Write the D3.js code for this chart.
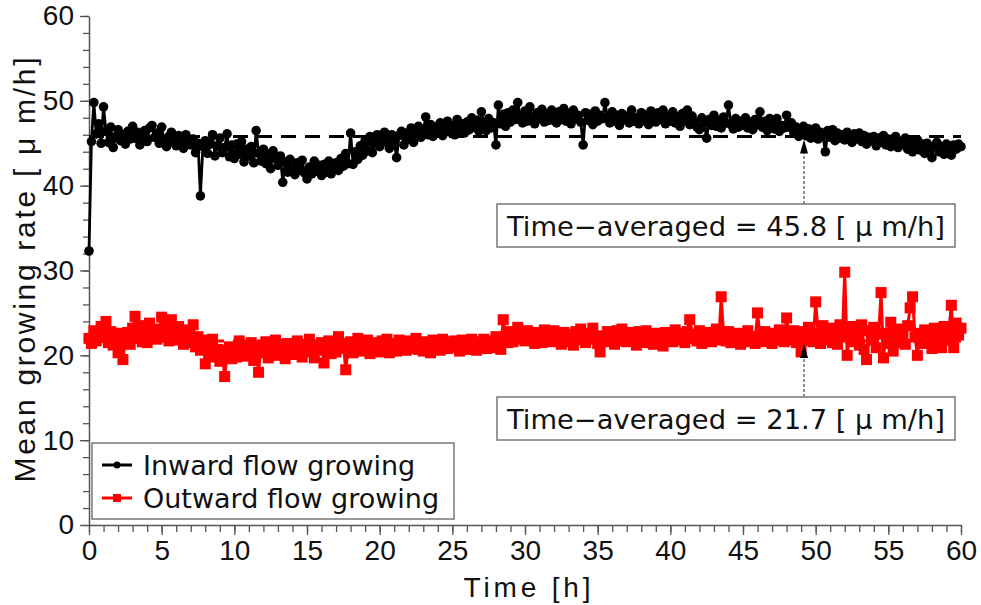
<!doctype html>
<html>
<head>
    <meta charset="utf-8">
    <script src="https://d3js.org/d3.v7.min.js"></script>
    <style>
      body { margin: 0; background: #fff; }
    </style>
</head>
<body>
    <svg id="chart" width="981" height="605"></svg>
    <script>
        // one sample every 10 min, 0..60 h (6 values per row = 1 hour)
        const timeStep = 1 / 6;

        // Inward flow growing (black circles)
        const inwardValues = [
          32.3, 45.2, 49.8, 46.1, 47.3, 45.0,
          49.3, 46.4, 45.1, 46.9, 44.5, 45.8,
          46.6, 45.3, 46.0, 44.9, 46.4, 45.5,
          47.0, 45.6, 46.3, 44.8, 45.9, 46.5,
          45.2, 46.8, 47.1, 45.7, 46.2, 45.0,
          46.9, 45.4, 44.6, 45.8, 46.3, 45.1,
          44.7, 45.9, 45.3, 44.4, 46.0, 45.2,
          44.8, 45.5, 43.9, 45.0, 38.8, 44.6,
          45.3, 43.8, 44.9, 46.0, 43.5, 44.7,
          45.6, 43.9, 44.5, 46.1, 43.4, 44.8,
          43.2, 44.9, 43.7, 45.2, 42.8, 44.3,
          43.5, 44.6, 42.7, 46.5, 43.8, 42.9,
          44.3, 42.6, 43.7, 42.0, 44.1, 43.2,
          42.4, 43.5, 40.4, 42.8, 41.6, 43.1,
          42.0, 41.3, 42.7, 41.8, 43.0, 41.5,
          40.8, 42.2, 41.4, 42.9, 41.7, 42.4,
          41.2, 42.5, 41.6, 42.9, 41.4, 42.1,
          42.7, 41.8, 43.2, 42.3, 43.8, 42.6,
          46.2, 42.5, 44.0, 43.1, 44.7, 43.6,
          45.3, 44.1, 45.8, 43.9, 45.0, 46.0,
          44.6, 45.7, 46.3, 45.1, 44.4, 46.0,
          45.2, 43.3, 45.9, 46.4, 44.8, 46.2,
          45.5, 46.8, 45.1, 46.3, 47.0, 45.7,
          46.4, 48.1, 46.0, 47.2, 45.8, 46.9,
          46.2, 47.4, 45.9, 46.8, 47.6, 46.3,
          47.1, 46.0, 47.8, 46.5, 47.3, 46.2,
          47.5, 46.6, 48.0, 46.9, 47.7, 46.4,
          48.7, 47.2, 46.5, 47.9, 46.8, 47.4,
          44.8, 49.5, 47.3, 48.4, 47.0, 48.6,
          47.5, 48.9, 47.8, 49.8, 48.2, 47.4,
          48.8, 47.6, 49.3, 48.0, 47.3, 48.6,
          47.9, 49.0, 47.5, 48.4, 47.7, 48.9,
          48.2, 47.4, 48.7, 47.8, 49.1, 47.6,
          48.5, 47.3, 48.9, 47.9, 48.3, 47.5,
          44.8, 48.6, 47.7, 48.4, 47.2, 48.8,
          47.6, 48.3, 47.9, 49.8, 48.1, 47.4,
          48.7, 47.6, 48.3, 47.1, 48.5, 47.8,
          48.2, 47.4, 48.9, 47.6, 48.0, 47.3,
          48.6, 47.7, 48.3, 47.2, 48.8, 47.9,
          47.5, 48.6, 47.8, 48.9, 47.3, 48.2,
          47.6, 48.7, 47.4, 48.1, 47.0, 48.5,
          47.7, 48.9, 47.2, 48.2, 47.5, 46.9,
          46.6, 48.0, 47.4, 45.6, 47.8, 47.1,
          48.3, 47.0, 47.7, 46.8, 48.1, 47.4,
          49.5, 47.2, 46.7, 47.9, 46.9, 47.6,
          47.1, 48.0, 46.8, 47.5, 46.6, 47.8,
          47.2, 48.7, 46.9, 47.6, 46.5, 47.9,
          47.3, 46.7, 47.9, 46.4, 47.1, 46.8,
          48.3, 46.9, 47.4, 46.2, 46.9, 45.8,
          46.6, 47.0, 45.9, 46.7, 45.6, 46.4,
          46.8, 45.5, 46.3, 45.9, 44.0, 46.5,
          45.7, 46.6, 45.3, 46.2, 45.6, 46.0,
          45.4, 46.3, 45.8, 45.1, 46.1, 45.5,
          46.2, 45.2, 45.9, 44.9, 45.7, 45.3,
          45.8, 44.7, 45.6, 45.1, 45.9, 44.8,
          45.5, 44.6, 45.3, 45.8, 44.5, 45.2,
          44.9, 45.6, 44.3, 45.2, 44.0, 44.8,
          45.4, 44.2, 44.9, 43.8, 45.0, 44.4,
          43.3, 44.7, 45.1, 44.0, 44.6, 43.7,
          44.9, 44.1, 43.6, 44.8, 44.3, 44.9,
          44.6
        ];

        // Outward flow growing (red squares)
        const outwardValues = [
          22.0, 21.4, 22.9, 21.7, 22.5, 23.4,
          22.1, 24.0, 21.5, 22.8, 21.2, 22.4,
          20.3, 22.6, 19.5, 21.8, 22.7, 21.3,
          23.2, 24.6, 22.0, 23.5, 21.6, 22.8,
          21.5, 23.8, 22.4, 23.1, 21.9, 22.6,
          24.5, 22.2, 23.6, 21.7, 24.2, 22.9,
          21.8, 23.4, 22.5, 21.3, 23.0, 22.1,
          21.5, 23.6, 21.0, 22.2, 20.6, 21.8,
          19.0, 21.5, 20.2, 21.9, 19.8, 20.7,
          19.3, 20.6, 17.5, 20.1, 21.0, 19.6,
          20.8, 19.8, 21.7, 20.3, 21.2, 19.9,
          20.6, 21.5, 19.4, 20.9, 18.0, 21.1,
          20.3, 21.6, 19.7, 21.0, 20.4, 21.8,
          20.0, 21.3, 20.7, 19.6, 21.4, 20.5,
          21.2, 20.1, 21.7, 20.6, 19.8, 21.3,
          20.4, 21.9, 20.8, 19.7, 21.2, 20.6,
          21.5, 19.1, 20.9, 21.7, 20.2, 21.0,
          20.4, 22.2, 20.8, 21.4, 18.3, 20.9,
          21.6, 20.3, 21.1, 22.0, 20.5, 21.3,
          20.7, 21.8, 20.2, 21.5, 20.9, 21.2,
          20.4, 21.7, 20.8, 21.9, 20.3, 21.4,
          21.0, 20.5, 21.8, 20.9, 21.5, 20.6,
          21.7, 20.8, 21.3, 22.0, 20.7, 21.4,
          20.5, 21.6, 21.0, 20.3, 21.8, 21.1,
          21.4, 20.6, 21.9, 21.0, 20.8, 21.6,
          20.9, 21.7, 21.2, 20.5, 21.8, 21.0,
          21.5, 20.7, 21.9, 21.1, 20.6, 21.6,
          21.0, 21.9, 20.8, 21.4, 20.9, 21.7,
          22.2, 21.1, 20.7, 24.2, 22.0, 21.5,
          22.8, 21.6, 22.4, 23.3, 21.9, 22.5,
          21.7, 22.9, 21.9, 22.3, 21.4, 22.7,
          22.1, 21.5, 23.0, 21.8, 22.5, 21.6,
          22.9, 21.9, 22.4, 21.3, 22.7, 22.0,
          21.6, 22.5, 21.2, 22.8, 21.8, 23.1,
          22.2, 21.5, 22.6, 21.9, 23.2, 22.0,
          21.4, 20.4, 22.3, 21.6, 22.8, 21.9,
          22.5, 21.3, 22.9, 21.7, 23.1, 22.2,
          21.6, 22.7, 21.9, 22.4, 21.2, 22.8,
          22.0, 21.5, 22.9, 21.8, 22.5, 21.3,
          22.6, 21.9, 22.3, 21.1, 22.7, 21.7,
          22.4, 21.6, 23.0, 22.1, 21.8, 22.6,
          21.5, 22.8, 24.2, 22.0, 22.5, 21.7,
          22.9, 21.4, 22.3, 21.9, 22.7, 21.6,
          22.2, 23.1, 21.8, 26.9, 22.4, 21.7,
          22.8, 21.5, 22.3, 21.9, 22.6, 21.3,
          22.5, 21.8, 22.9, 21.6, 22.2, 21.4,
          25.0, 22.3, 21.6, 22.8, 21.9, 22.5,
          21.4, 22.6, 21.8, 23.0, 22.1, 21.6,
          24.4, 22.5, 21.8, 22.9, 21.5, 22.4,
          20.4, 22.8, 21.7, 23.3, 22.0, 21.6,
          26.3, 22.6, 21.4, 23.5, 22.1, 21.8,
          23.2, 21.5, 22.9, 21.3, 23.6, 22.2,
          29.8, 20.0, 22.8, 23.4, 21.6, 22.5,
          21.2, 23.6, 20.7, 19.5, 22.9, 21.8,
          23.3, 20.9, 22.5, 27.4, 19.7, 22.6,
          21.4, 23.9, 20.5, 22.7, 21.5, 23.1,
          22.0, 21.3, 23.5, 25.6, 26.9, 22.2,
          20.0, 22.6, 21.4, 23.0, 21.9, 22.5,
          20.8, 23.2, 21.6, 22.4, 20.9, 23.4,
          21.8, 22.9, 25.9, 20.9, 23.8, 22.4,
          23.2
        ];

        const inwardAverage = 45.8;
        const outwardAverage = 21.7;
        const arrowTime = 49.2;

        const xTicks = [0, 5, 10, 15, 20, 25, 30, 35, 40, 45, 50, 55, 60];
        const xMinorTicks = d3.range(0, 61, 1);
        const yTicks = [0, 10, 20, 30, 40, 50, 60];
        const yMinorTicks = d3.range(0, 61, 2);

        const seriesNames = ["Inward flow growing", "Outward flow growing"];
        const seriesColors = ["#000000", "#ff0000"];

        const tickFont = "'Liberation Sans', Arial, sans-serif";
        const noteFont = "'DejaVu Sans', sans-serif";

        const svg = d3.select("#chart");

        const x = d3.scaleLinear().domain([0, 60]).range([89, 961]);
        const y = d3.scaleLinear().domain([0, 60]).range([525, 16]);

        const inward = inwardValues.map((v, i) => ({ t: i * timeStep, v: v }));
        const outward = outwardValues.map((v, i) => ({ t: i * timeStep, v: v }));

        // axes: minor ticks first, then major with labels
        const axisColor = "#555";

        svg.append("g")
          .attr("transform", "translate(0,525)")
          .call(d3.axisBottom(x).tickValues(xMinorTicks).tickSize(7).tickFormat(""))
          .call(g => g.select(".domain").remove())
          .call(g => g.selectAll("line").attr("stroke", axisColor).attr("stroke-width", 1.3));

        svg.append("g")
          .attr("transform", "translate(0,525)")
          .call(d3.axisBottom(x).tickValues(xTicks).tickSize(10).tickSizeOuter(0).tickPadding(5))
          .call(g => g.select(".domain").attr("stroke", axisColor).attr("stroke-width", 1.5))
          .call(g => g.selectAll("line").attr("stroke", axisColor).attr("stroke-width", 1.3))
          .call(g => g.selectAll("text").attr("font-family", tickFont).attr("font-size", 28).attr("fill", "#111"));

        svg.append("g")
          .attr("transform", "translate(89,0)")
          .call(d3.axisLeft(y).tickValues(yMinorTicks).tickSize(6).tickFormat(""))
          .call(g => g.select(".domain").remove())
          .call(g => g.selectAll("line").attr("stroke", axisColor).attr("stroke-width", 1.3));

        svg.append("g")
          .attr("transform", "translate(89,0)")
          .call(d3.axisLeft(y).tickValues(yTicks).tickSize(9).tickSizeOuter(0).tickPadding(6))
          .call(g => g.select(".domain").attr("stroke", axisColor).attr("stroke-width", 1.5))
          .call(g => g.selectAll("line").attr("stroke", axisColor).attr("stroke-width", 1.3))
          .call(g => g.selectAll("text").attr("font-family", tickFont).attr("font-size", 28).attr("fill", "#111"));

        // axis titles (letter-spaced like the original)
        svg.append("text")
          .attr("x", 527)
          .attr("y", 597)
          .attr("text-anchor", "middle")
          .attr("font-family", tickFont)
          .attr("font-size", 28)
          .attr("fill", "#111")
          .attr("textLength", 127)
          .attr("lengthAdjust", "spacing")
          .text("Time [h]");

        svg.append("text")
          .attr("transform", "translate(35,270) rotate(-90)")
          .attr("text-anchor", "middle")
          .attr("font-family", tickFont)
          .attr("font-size", 30)
          .attr("fill", "#111")
          .attr("textLength", 425)
          .attr("lengthAdjust", "spacing")
          .text("Mean growing rate [ μ m/h]");

        // time-averaged dashed lines (behind the data)
        [[inwardAverage, seriesColors[0]], [outwardAverage, seriesColors[1]]].forEach(([avg, col]) => {
          svg.append("line")
            .attr("x1", x(0)).attr("x2", x(60))
            .attr("y1", y(avg)).attr("y2", y(avg))
            .attr("stroke", col)
            .attr("stroke-width", 3)
            .attr("stroke-dasharray", "15,9");
        });

        const line = d3.line()
          .x(d => x(d.t))
          .y(d => y(d.v));

        // outward (red squares)
        svg.append("path")
          .datum(outward)
          .attr("fill", "none")
          .attr("stroke", seriesColors[1])
          .attr("stroke-width", 3)
          .attr("d", line);

        const sq = 11;
        svg.append("g")
          .selectAll("rect")
          .data(outward)
          .join("rect")
          .attr("x", d => x(d.t) - sq / 2)
          .attr("y", d => y(d.v) - sq / 2)
          .attr("width", sq)
          .attr("height", sq)
          .attr("fill", seriesColors[1]);

        // inward (black circles)
        svg.append("path")
          .datum(inward)
          .attr("fill", "none")
          .attr("stroke", seriesColors[0])
          .attr("stroke-width", 2.8)
          .attr("d", line);

        svg.append("g")
          .selectAll("circle")
          .data(inward)
          .join("circle")
          .attr("cx", d => x(d.t))
          .attr("cy", d => y(d.v))
          .attr("r", 4.8)
          .attr("fill", seriesColors[0]);

        // annotation boxes with dotted arrows
        const notes = [
          { avg: inwardAverage, top: 204 },
          { avg: outwardAverage, top: 397 }
        ];
        notes.forEach(n => {
          const ax = x(arrowTime);
          const tipY = y(n.avg) + 3;
          svg.append("line")
            .attr("x1", ax).attr("x2", ax)
            .attr("y1", n.top).attr("y2", tipY + 12)
            .attr("stroke", "#444")
            .attr("stroke-width", 1.2)
            .attr("stroke-dasharray", "3,2");
          svg.append("path")
            .attr("d", `M${ax},${tipY} L${ax - 4},${tipY + 14} L${ax + 4},${tipY + 14} Z`)
            .attr("fill", "#000");
          svg.append("rect")
            .attr("x", 497).attr("y", n.top)
            .attr("width", 458).attr("height", 43)
            .attr("fill", "#fff")
            .attr("stroke", "#777")
            .attr("stroke-width", 1.5);
          svg.append("text")
            .attr("x", 507)
            .attr("y", n.top + 22)
            .attr("dominant-baseline", "central")
            .attr("font-family", noteFont)
            .attr("font-size", 27)
            .attr("fill", "#111")
            .attr("textLength", 438)
            .attr("lengthAdjust", "spacingAndGlyphs")
            .text(`Time\u2212averaged = ${n.avg} [ μ m/h]`);
        });

        // legend
        const legend = svg.append("g");
        legend.append("rect")
          .attr("x", 92).attr("y", 443)
          .attr("width", 362).attr("height", 76)
          .attr("fill", "#fff")
          .attr("stroke", "#777")
          .attr("stroke-width", 1.5);

        seriesNames.forEach((name, i) => {
          const ly = 465 + i * 33;
          legend.append("line")
            .attr("x1", 102).attr("x2", 132)
            .attr("y1", ly).attr("y2", ly)
            .attr("stroke", seriesColors[i])
            .attr("stroke-width", 3);
          if (i === 0) {
            legend.append("circle")
              .attr("cx", 117).attr("cy", ly).attr("r", 3.5)
              .attr("fill", seriesColors[i]);
          } else {
            legend.append("rect")
              .attr("x", 113).attr("y", ly - 4)
              .attr("width", 8).attr("height", 8)
              .attr("fill", seriesColors[i]);
          }
          legend.append("text")
            .attr("x", 143)
            .attr("y", ly)
            .attr("dominant-baseline", "central")
            .attr("font-family", noteFont)
            .attr("font-size", 27)
            .attr("fill", "#111")
            .text(name);
        });
    </script>
</body>
</html>
